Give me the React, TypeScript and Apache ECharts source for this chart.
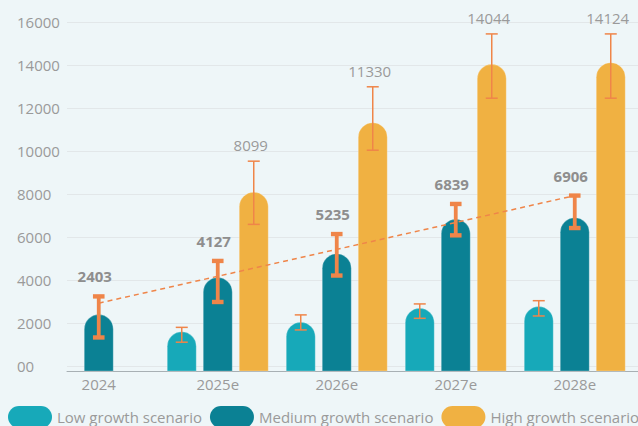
import React, { useEffect, useRef } from 'react';
import * as echarts from 'echarts';

const categories = ['2024', '2025e', '2026e', '2027e', '2028e'];
const yTicks = [0, 2000, 4000, 6000, 8000, 10000, 12000, 14000, 16000];
const seriesNames = ['Low growth scenario', 'Medium growth scenario', 'High growth scenario'];

const lowValues = [null, 1600, 2050, 2700, 2780];
const lowErrLow = [null, 1120, 1690, 2230, 2340];
const lowErrHigh = [null, 1810, 2390, 2900, 3050];

const mediumValues = [2403, 4127, 5235, 6839, 6906];
const mediumErrLow = [1340, 2990, 4220, 6090, 6430];
const mediumErrHigh = [3250, 4900, 6150, 7550, 7940];

const highValues = [null, 8099, 11330, 14044, 14124];
const highErrLow = [null, 6600, 10050, 12470, 12470];
const highErrHigh = [null, 9540, 13000, 15460, 15460];

const trendValues = [2935, null, null, null, 7940];

const Y_MIN = -220;
const Y_MAX = 16000;

const LOW_COLOR = '#17a9b9';
const MED_COLOR = '#0b8194';
const HIGH_COLOR = '#f0b142';
const ORANGE = '#ef8549';
const BG = '#eef6f8';
const FONT = "'Open Sans', sans-serif";

const BAR_W = 29;
const BAR_STEP = 36;

function barSeries(name: string, values: (number | null)[], color: string, slot: number) {
  const data = values
    .map((v, i) => (v == null ? null : [i, v]))
    .filter((d) => d !== null);
  return {
    type: 'custom',
    name,
    xAxisIndex: 0,
    yAxisIndex: 0,
    z: 2,
    silent: true,
    itemStyle: { color },
    encode: { x: 0, y: 1 },
    data,
    renderItem: (params: any, api: any) => {
      const idx = api.value(0);
      const top = api.coord([idx, api.value(1)]);
      const cx = top[0] + slot * BAR_STEP;
      const bottom = params.coordSys.y + params.coordSys.height;
      return {
        type: 'rect',
        shape: {
          x: cx - BAR_W / 2,
          y: top[1],
          width: BAR_W,
          height: bottom - top[1],
          r: [BAR_W / 2, BAR_W / 2, 0, 0],
        },
        style: { fill: color, stroke: 'rgba(255,255,255,0.25)', lineWidth: 1 },
      };
    },
  };
}

function errorSeries(
  values: (number | null)[],
  lows: (number | null)[],
  highs: (number | null)[],
  slot: number,
  thick: boolean,
  label: null | { color: string; weight: string; dy: number; dx: number }
) {
  const data = values
    .map((v, i) => (v == null ? null : [i, lows[i], highs[i], v]))
    .filter((d) => d !== null);
  return {
    type: 'custom',
    xAxisIndex: 0,
    yAxisIndex: 0,
    z: 4,
    silent: true,
    encode: { x: 0, y: [1, 2] },
    data,
    renderItem: (params: any, api: any) => {
      const idx = api.value(0);
      const lo = api.coord([idx, api.value(1)]);
      const hi = api.coord([idx, api.value(2)]);
      const cx = lo[0] + slot * BAR_STEP;
      const children: any[] = [];
      if (thick) {
        children.push({
          type: 'rect',
          shape: { x: cx - 1.9, y: hi[1], width: 3.8, height: lo[1] - hi[1] },
          style: { fill: ORANGE },
        });
        children.push({
          type: 'rect',
          shape: { x: cx - 5.8, y: hi[1] - 2.2, width: 11.6, height: 4.4 },
          style: { fill: ORANGE },
        });
        children.push({
          type: 'rect',
          shape: { x: cx - 5.8, y: lo[1] - 2.2, width: 11.6, height: 4.4 },
          style: { fill: ORANGE },
        });
      } else {
        const ls = { stroke: ORANGE, lineWidth: 1.5 };
        children.push({ type: 'line', shape: { x1: cx, y1: hi[1], x2: cx, y2: lo[1] }, style: ls });
        children.push({ type: 'line', shape: { x1: cx - 6, y1: hi[1], x2: cx + 6, y2: hi[1] }, style: ls });
        children.push({ type: 'line', shape: { x1: cx - 6, y1: lo[1], x2: cx + 6, y2: lo[1] }, style: ls });
      }
      if (label) {
        children.push({
          type: 'text',
          style: {
            text: String(api.value(3)),
            x: cx + label.dx,
            y: hi[1] - label.dy,
            align: 'center',
            verticalAlign: 'middle',
            fill: label.color,
            fontSize: 15,
            fontWeight: label.weight,
            fontFamily: FONT,
          },
        });
      }
      return { type: 'group', children };
    },
  };
}

const pillIcon = 'path://M11,0 L33,0 A11,11 0 0 1 33,22 L11,22 A11,11 0 0 1 11,0 Z';

export default function App() {
  const ref = useRef<HTMLDivElement>(null);
  useEffect(() => {
    if (!ref.current) return;
    const chart = echarts.init(ref.current, null, { renderer: 'svg' });
    const option: any = {
      animation: false,
      backgroundColor: BG,
      textStyle: { fontFamily: FONT },
      grid: [
        { left: 39.25, right: 3.75, top: 22.3, bottom: 55, containLabel: false, outerBoundsMode: 'none' },
        { left: 67, right: 0, top: 22.3, bottom: 55, containLabel: false, outerBoundsMode: 'none' },
      ],
      legend: {
        data: seriesNames,
        left: 8,
        top: 406,
        width: 1200,
        padding: 0,
        itemWidth: 44,
        itemHeight: 22,
        itemGap: 8,
        icon: pillIcon,
        textStyle: { color: '#9a9a9a', fontSize: 15, fontFamily: FONT, lineHeight: 16 },
        selectedMode: false,
      },
      xAxis: [
        {
          type: 'category',
          gridIndex: 0,
          data: categories,
          axisLine: { show: false, onZero: false },
          axisTick: { show: false },
          axisLabel: { color: '#9a9a9a', fontSize: 15, fontFamily: FONT, margin: 5 },
          splitLine: { show: false },
        },
        {
          type: 'value',
          gridIndex: 1,
          min: 0,
          max: 1,
          axisLine: { show: true, onZero: false, lineStyle: { color: '#a8b0b4', width: 1 } },
          axisTick: { show: false },
          axisLabel: { show: false },
          splitLine: { show: false },
        },
      ],
      yAxis: [
        { type: 'value', gridIndex: 0, min: Y_MIN, max: Y_MAX, show: false },
        {
          type: 'value',
          gridIndex: 1,
          min: Y_MIN,
          max: Y_MAX,
          axisLine: { show: false },
          axisTick: { show: false, customValues: yTicks },
          axisLabel: {
            customValues: yTicks,
            align: 'left',
            margin: 50,
            color: '#9a9a9a',
            fontSize: 15,
            fontFamily: FONT,
            padding: [0, 0, 6, 0],
            formatter: (v: number) => (v === 0 ? '00' : String(v)),
          },
          splitLine: { show: true, lineStyle: { color: '#e2e7e9', width: 1 } },
        },
      ],
      series: [
        barSeries(seriesNames[0], lowValues, LOW_COLOR, -1),
        barSeries(seriesNames[1], mediumValues, MED_COLOR, 0),
        barSeries(seriesNames[2], highValues, HIGH_COLOR, 1),
        {
          type: 'line',
          xAxisIndex: 0,
          yAxisIndex: 0,
          data: trendValues,
          connectNulls: true,
          symbol: 'none',
          silent: true,
          z: 3,
          lineStyle: { color: ORANGE, width: 1.5, type: [5, 4] },
        },
        errorSeries(lowValues, lowErrLow, lowErrHigh, -1, false, null),
        errorSeries(mediumValues, mediumErrLow, mediumErrHigh, 0, true, {
          color: '#8e8e8e',
          weight: 'bold',
          dy: 20,
          dx: -4,
        }),
        errorSeries(highValues, highErrLow, highErrHigh, 1, false, {
          color: '#9a9a9a',
          weight: 'normal',
          dy: 16,
          dx: -3,
        }),
      ],
    };
    chart.setOption(option);
    return () => chart.dispose();
  }, []);
  return (
    <div
      ref={ref}
      style={{ position: 'fixed', left: 0, top: 0, width: 638, height: 426, background: BG }}
    />
  );
}
